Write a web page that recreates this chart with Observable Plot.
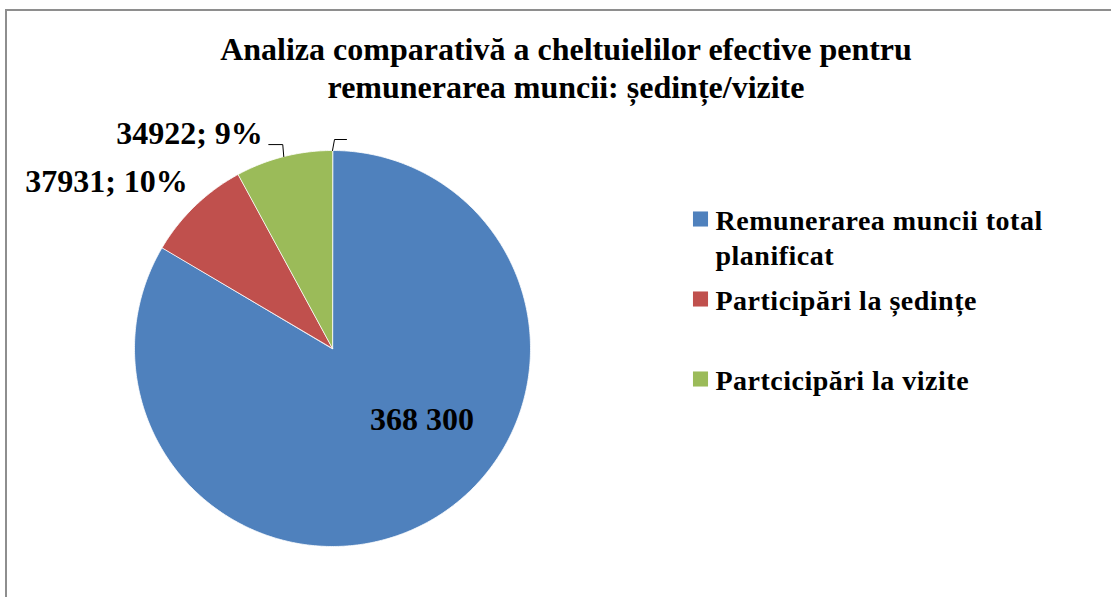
<!DOCTYPE html>
<html>
<head>
<meta charset="utf-8">
<script src="https://cdn.jsdelivr.net/npm/d3@7"></script>
<script src="https://cdn.jsdelivr.net/npm/@observablehq/plot@0.6"></script>
<style>
  html, body { margin: 0; padding: 0; background: #fff; }
  #page { position: absolute; left: 0; top: 0; width: 1111px; height: 597px; overflow: hidden; }
  #frame { position: absolute; left: 5px; top: 9px; width: 1300px; height: 800px; border: 2px solid #8e8e8e; box-sizing: border-box; }
  #title { position: relative; height: 112px; box-sizing: border-box; padding-top: 30px; width: 1132px;
           text-align: center; font-family: "Liberation Serif", "Times New Roman", serif; font-weight: bold; font-size: 32px; line-height: 38px; color: #000; }
  #chart { position: relative; }
  #chart svg { display: block; }
  #chart g[aria-description="legend"] text { letter-spacing: 0.5px; }
</style>
</head>
<body>
<div id="page">
  <div id="frame"></div>
  <div id="title">Analiza comparativă a cheltuielilor efective pentru<br>remunerarea muncii: ședințe/vizite</div>
  <div id="chart"></div>
</div>
<script>
// ---- data ----
const categories = ["Remunerarea muncii total\nplanificat", "Participări la ședințe", "Partcicipări la vizite"];
const values = [368300, 37931, 34922];
const labelTexts = ["368 300", "37931; 10%", "34922; 9%"];
const colors = ["#4F81BD", "#C0504D", "#9BBB59"];

// ---- layout ----
const W = 1111, H = 485;
const cx = 332, cy = 236, R = 198;
const labelOffsets = [[89.5, 71], [-226, -167], [-143, -214.5]]; // label centre relative to pie centre
const legendX = 700, legendY0 = 106.5, legendStep = 80;

const arcs = d3.pie().sort(null).startAngle(0).endAngle(2 * Math.PI)(values);
const pt = (a, r) => [cx + r * Math.sin(a), cy - r * Math.cos(a)];

const slicePts = [];
arcs.forEach((arc, i) => {
  const cat = categories[i];
  slicePts.push({cat, x: cx, y: cy});
  const n = Math.max(2, Math.ceil((arc.endAngle - arc.startAngle) / (Math.PI / 360)));
  for (let k = 0; k <= n; k++) {
    const a = arc.startAngle + (arc.endAngle - arc.startAngle) * k / n;
    const [x, y] = pt(a, R);
    slicePts.push({cat, x, y});
  }
});

const labels = arcs.map((arc, i) => ({text: labelTexts[i], x: cx + labelOffsets[i][0], y: cy + labelOffsets[i][1]}));

// leader lines: green label -> mid of green slice ; small hook at start of the first slice
const gMid = (arcs[2].startAngle + arcs[2].endAngle) / 2;
const [gx, gy] = pt(gMid, R);
const [tx, ty] = pt(arcs[0].startAngle, R);
const leaders = [
  {id: "g", x: gx - 15, y: gy - 12}, {id: "g", x: gx - 1, y: gy - 12}, {id: "g", x: gx, y: gy},
  {id: "t", x: tx + 14, y: ty - 11}, {id: "t", x: tx + 2, y: ty - 11}, {id: "t", x: tx, y: ty}
];

const legend = categories.map((c, i) => ({cat: c, x: legendX, y: legendY0 + i * legendStep}));

const font = "Liberation Serif, Times New Roman, serif";

const chart = Plot.plot({
  width: W, height: H,
  margin: 0,
  x: {domain: [0, W], range: [0, W], axis: null},
  y: {domain: [0, H], range: [0, H], axis: null},
  color: {domain: categories, range: colors},
  marks: [
    Plot.line(slicePts, {x: "x", y: "y", z: "cat", fill: "cat", stroke: "#ffffff", strokeWidth: 0.8, curve: "linear-closed"}),
    Plot.line(leaders, {x: "x", y: "y", z: "id", stroke: "#000", strokeWidth: 1, curve: "linear"}),
    Plot.text(labels, {x: "x", y: "y", text: "text", fontFamily: font, fontWeight: "bold", fontSize: 32, fill: "#000", textAnchor: "middle", lineAnchor: "middle"}),
    Plot.dot(legend, {x: "x", y: "y", fill: "cat", symbol: "square", r: 8.5, stroke: null}),
    Plot.text(legend, {x: "x", y: "y", text: "cat", dx: 15, dy: -13, fontFamily: font, fontWeight: "bold", fontSize: 28, fill: "#000", textAnchor: "start", lineAnchor: "top", lineHeight: 1.23, ariaDescription: "legend"})
  ]
});
document.getElementById("chart").appendChild(chart);
</script>
</body>
</html>
